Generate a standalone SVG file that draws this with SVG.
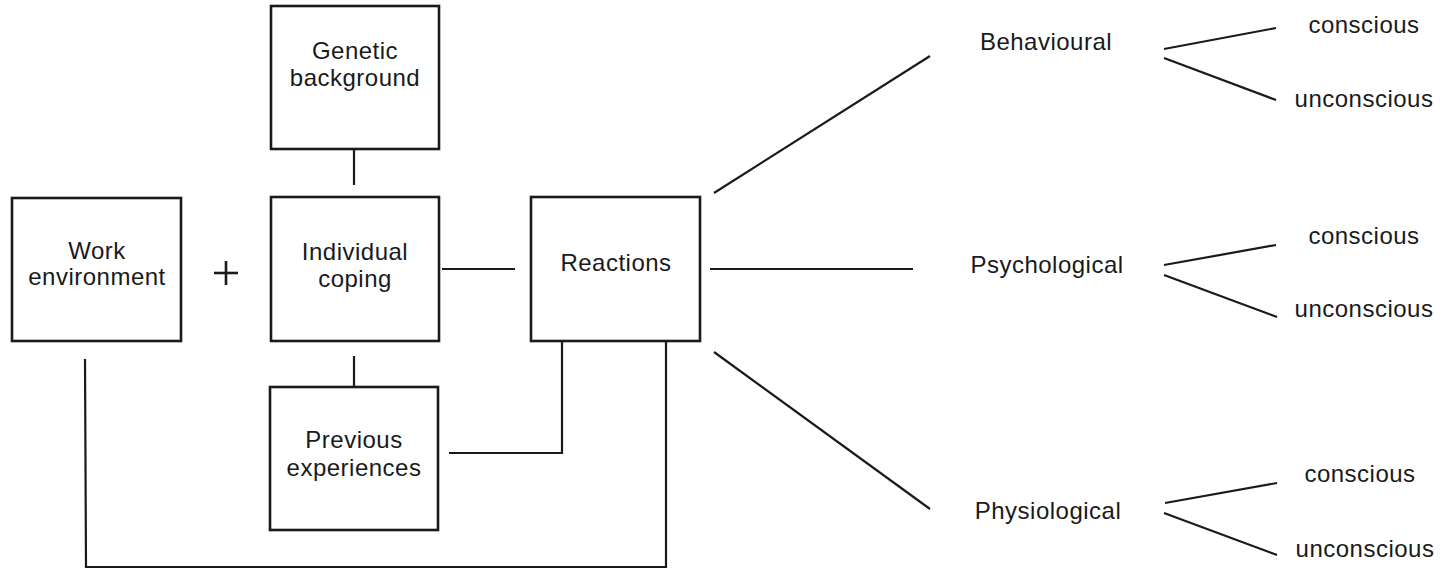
<svg xmlns="http://www.w3.org/2000/svg" width="1449" height="572" viewBox="0 0 1449 572">
  <style>
    .box { fill: #ffffff; stroke: #1a1a1a; stroke-width: 2.6; }
    .lbl { font-family: "Liberation Sans", Arial, Helvetica, sans-serif; font-size: 24px; fill: #1a1a1a; letter-spacing: 0.5px; text-anchor: middle; }
    .conn line, .conn polyline { stroke: #1a1a1a; stroke-width: 2.2; fill: none; }
    .plus { stroke: #1a1a1a; stroke-width: 2.6; }
  </style>
  <rect width="1449" height="572" fill="#ffffff"/>

  <!-- connectors -->
  <g id="connectors" class="conn">
    <line x1="354" y1="149" x2="354" y2="185"/>
    <line x1="354" y1="356" x2="354" y2="387"/>
    <line x1="442" y1="269" x2="515" y2="269"/>
    <polyline points="449,453 562,453 562,341"/>
    <polyline points="85,359 86,567 666,567 666,341"/>
    <line x1="714" y1="193" x2="930" y2="56"/>
    <line x1="710" y1="269" x2="913" y2="269"/>
    <line x1="714" y1="352" x2="930" y2="509"/>
    <line x1="1164" y1="49" x2="1276" y2="28"/>
    <line x1="1164" y1="58" x2="1276" y2="100"/>
    <line x1="1164" y1="265" x2="1276" y2="245"/>
    <line x1="1164" y1="275" x2="1277" y2="317"/>
    <line x1="1165" y1="503" x2="1277" y2="483"/>
    <line x1="1164" y1="513" x2="1277" y2="555"/>
  </g>

  <g id="plus">
    <line class="plus" x1="214" y1="273" x2="238" y2="273"/>
    <line class="plus" x1="226" y1="261" x2="226" y2="285"/>
  </g>

  <g id="genetic">
    <rect class="box" x="271" y="6" width="168" height="143"/>
    <text class="lbl" x="355" y="59">Genetic</text>
    <text class="lbl" x="355" y="86">background</text>
  </g>

  <g id="work">
    <rect class="box" x="12" y="198" width="169" height="143"/>
    <text class="lbl" x="97" y="259">Work</text>
    <text class="lbl" x="97" y="285">environment</text>
  </g>

  <g id="coping">
    <rect class="box" x="271" y="197" width="168" height="144"/>
    <text class="lbl" x="355" y="260">Individual</text>
    <text class="lbl" x="355" y="287">coping</text>
  </g>

  <g id="previous">
    <rect class="box" x="270" y="387" width="168" height="143"/>
    <text class="lbl" x="354" y="448">Previous</text>
    <text class="lbl" x="354" y="476">experiences</text>
  </g>

  <g id="reactions">
    <rect class="box" x="531" y="197" width="169" height="144"/>
    <text class="lbl" x="616" y="271">Reactions</text>
  </g>

  <g id="behavioural">
    <text class="lbl" x="1046" y="50">Behavioural</text>
    <text class="lbl" x="1364" y="33">conscious</text>
    <text class="lbl" x="1364" y="107">unconscious</text>
  </g>

  <g id="psychological">
    <text class="lbl" x="1047" y="273">Psychological</text>
    <text class="lbl" x="1364" y="244">conscious</text>
    <text class="lbl" x="1364" y="317">unconscious</text>
  </g>

  <g id="physiological">
    <text class="lbl" x="1048" y="519">Physiological</text>
    <text class="lbl" x="1360" y="482">conscious</text>
    <text class="lbl" x="1365" y="557">unconscious</text>
  </g>
</svg>
